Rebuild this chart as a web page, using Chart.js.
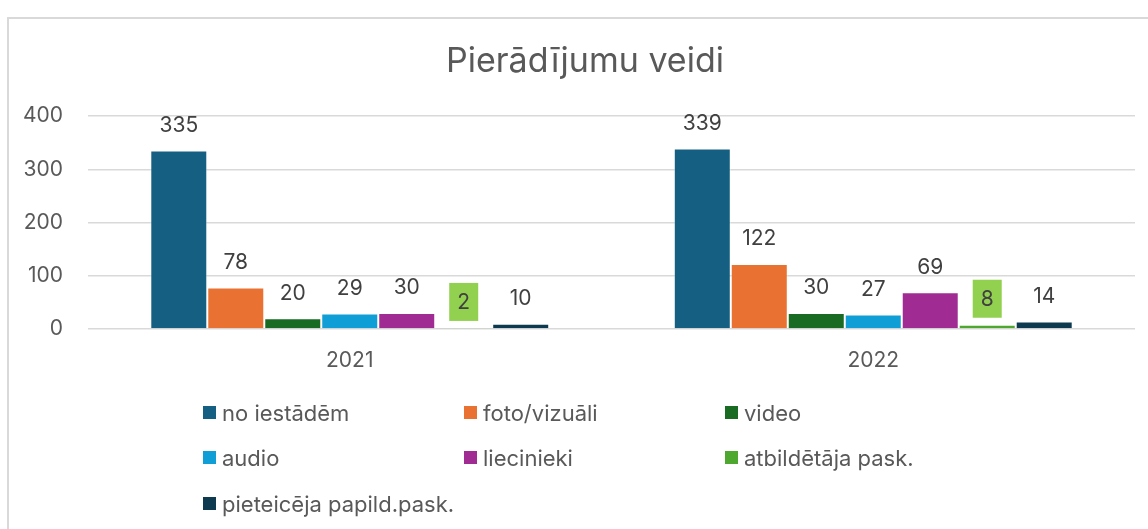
<!DOCTYPE html>
<html>
<head>
<meta charset="utf-8">
<script src="https://cdn.jsdelivr.net/npm/chart.js@4.4.1/dist/chart.umd.min.js"></script>
<style>
  html, body { margin: 0; padding: 0; background: #fff; overflow: hidden; }
  #wrap { position: relative; width: 1148px; height: 529px; }
  #frame { position: absolute; left: 7px; top: 17px; width: 1200px; height: 600px;
           border-left: 2px solid #d9d9d9; border-top: 2px solid #d9d9d9; box-sizing: border-box; }
  canvas { position: absolute; left: 0; top: 0; }
</style>
</head>
<body>
<div id="wrap">
  <div id="frame"></div>
  <canvas id="c" width="1148" height="529"></canvas>
</div>
<script>
const title = 'Pierādījumu veidi';
const categories = ['2021', '2022'];
const seriesNames = ['no iestādēm', 'foto/vizuāli', 'video', 'audio', 'liecinieki', 'atbildētāja pask.', 'pieteicēja papild.pask.'];
const noIestadem = [335, 339];
const fotoVizuali = [78, 122];
const video = [20, 30];
const audio = [29, 27];
const liecinieki = [30, 69];
const atbildetajaPask = [2, 8];
const pieteicejaPapild = [10, 14];
const yTicks = [0, 100, 200, 300, 400];
const colors = ['#156082', '#E97132', '#196B24', '#0F9ED5', '#A02B93', '#4EA72E', '#0D3A4F'];
const seriesValues = [noIestadem, fotoVizuali, video, audio, liecinieki, atbildetajaPask, pieteicejaPapild];

const FONT = 'Inter, Roboto, "Liberation Sans", sans-serif';

const datasets = seriesNames.map((name, i) => ({
  label: name,
  data: seriesValues[i],
  backgroundColor: colors[i],
  borderColor: 'rgba(255,255,255,0.35)',
  borderWidth: 1,
  categoryPercentage: 0.762,
  barPercentage: 1.0
}));

const chartTitle = {
  id: 'chartTitle',
  afterDraw(chart) {
    const ctx = chart.ctx;
    ctx.save();
    ctx.font = '34px ' + FONT;
    ctx.textAlign = 'center';
    ctx.textBaseline = 'alphabetic';
    ctx.fillStyle = '#595959';
    ctx.fillText(title, 585, 72);
    ctx.restore();
  }
};

const valueLabels = {
  id: 'valueLabels',
  afterDatasetsDraw(chart) {
    const ctx = chart.ctx;
    ctx.save();
    ctx.font = '21px ' + FONT;
    ctx.textAlign = 'center';
    ctx.textBaseline = 'middle';
    chart.data.datasets.forEach((ds, di) => {
      const meta = chart.getDatasetMeta(di);
      meta.data.forEach((bar, i) => {
        const v = ds.data[i];
        const x = bar.x, y = bar.y - 26;
        if (di === 5) {
          ctx.fillStyle = '#92D050';
          ctx.fillRect(x - 14.5, y - 19, 29, 38);
        }
        ctx.fillStyle = '#404040';
        ctx.fillText(String(v), x, y + 1);
      });
    });
    ctx.restore();
  }
};

const gridLegend = {
  id: 'gridLegend',
  afterDraw(chart) {
    const ctx = chart.ctx;
    ctx.save();
    ctx.font = '22px ' + FONT;
    ctx.textAlign = 'left';
    ctx.textBaseline = 'middle';
    const colX = [203, 464, 725];
    const rowY = [413, 458, 504];
    chart.data.datasets.forEach((ds, i) => {
      const cx = colX[i % 3], cy = rowY[Math.floor(i / 3)];
      ctx.fillStyle = ds.backgroundColor;
      ctx.fillRect(cx, cy - 7, 13, 13);
      ctx.fillStyle = '#595959';
      ctx.fillText(ds.label, cx + 19, cy + 1);
    });
    ctx.restore();
  }
};

new Chart(document.getElementById('c'), {
  type: 'bar',
  data: { labels: categories, datasets },
  options: {
    responsive: false,
    animation: false,
    layout: { padding: { left: 0, right: 13, top: 116, bottom: 0 } },
    plugins: {
      legend: { display: false },
      tooltip: { enabled: false },
      title: { display: false }
    },
    scales: {
      x: {
        grid: { display: false, drawTicks: false },
        border: { display: false },
        ticks: { color: '#595959', font: { family: FONT, size: 21 }, padding: 19 },
        afterFit(scale) { scale.height = 200; }
      },
      y: {
        min: 0, max: 400,
        afterBuildTicks(scale) { scale.ticks = yTicks.map(v => ({ value: v })); },
        grid: { color: '#d9d9d9', lineWidth: 1.5, drawTicks: false },
        border: { display: false },
        ticks: { color: '#595959', font: { family: FONT, size: 21 }, padding: 25 },
        afterFit(scale) { scale.width = 88; }
      }
    }
  },
  plugins: [valueLabels, gridLegend, chartTitle]
});
</script>
</body>
</html>
